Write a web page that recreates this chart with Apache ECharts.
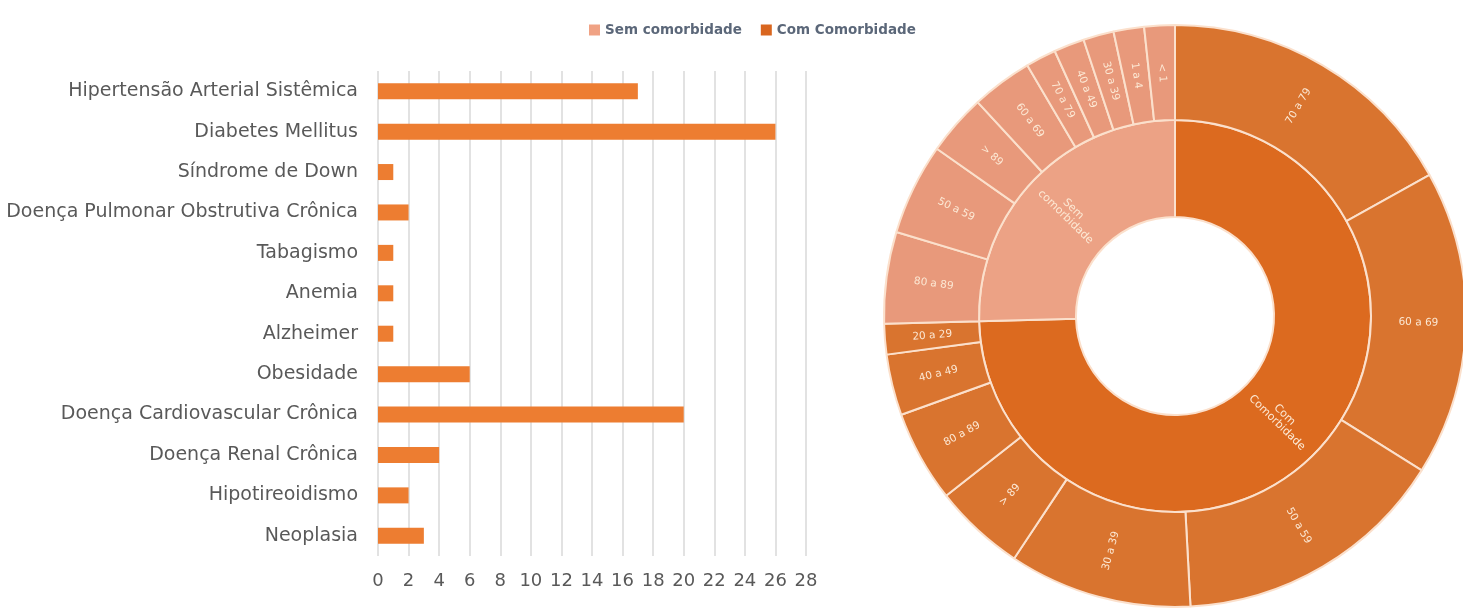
<!DOCTYPE html>
<html>
<head>
<meta charset="utf-8">
<script src="https://cdn.jsdelivr.net/npm/echarts@6/dist/echarts.min.js"></script>
<style>
html,body{margin:0;padding:0;background:#fff;}
#chart{width:1463px;height:608px;}
</style>
</head>
<body>
<div id="chart"></div>
<script>
// Bar chart data (comorbidities)
const comorbidities = ['Hipertensão Arterial Sistêmica','Diabetes Mellitus','Síndrome de Down','Doença Pulmonar Obstrutiva Crônica','Tabagismo','Anemia','Alzheimer','Obesidade','Doença Cardiovascular Crônica','Doença Renal Crônica','Hipotireoidismo','Neoplasia'];
const comorbidityCounts = [17,26,1,2,1,1,1,6,20,4,2,3];

// Sunburst data (age groups)
const groupNames = ['Com Comorbidade','Sem comorbidade'];
const groupLabels = ['Com\nComorbidade','Sem\ncomorbidade'];
const ageGroupsCom = ['70 a 79','60 a 69','50 a 59','30 a 39','> 89','80 a 89','40 a 49','20 a 29'];
const valuesCom = [10,10,9,6,3,3,2,1];
const ageGroupsSem = ['80 a 89','50 a 59','> 89','60 a 69','70 a 79','40 a 49','30 a 39','1 a 4','< 1'];
const valuesSem = [3,3,2,2,1,1,1,1,1];

const comInner = '#DC6A1F', comOuter = '#D9742F';
const semInner = '#ECA285', semOuter = '#E8997B';

function kids(names, vals, color){
  return names.map((n,i)=>({name:n, value:vals[i], itemStyle:{color:color}}));
}

const sunData = [
  {name: groupNames[0], label:{formatter: groupLabels[0]}, itemStyle:{color:comInner}, children: kids(ageGroupsCom, valuesCom, comOuter)},
  {name: groupNames[1], label:{formatter: groupLabels[1]}, itemStyle:{color:semInner}, children: kids(ageGroupsSem, valuesSem, semOuter)}
];

const chart = echarts.init(document.getElementById('chart'));
chart.setOption({
  animation:false,
  legend:{
    top:18, left:584,
    itemWidth:11, itemHeight:11, itemGap:19,
    icon:'rect',
    data: ['Sem comorbidade','Com Comorbidade'],
    textStyle:{fontFamily:'DejaVu Sans', fontSize:13.5, fontWeight:'bold', color:'#5B6779'}
  },
  grid:{left:378, right:657, top:71, bottom:52, containLabel:false},
  xAxis:{
    type:'value', min:0, max:28, interval:2,
    axisLine:{show:false}, axisTick:{show:false},
    axisLabel:{fontFamily:'DejaVu Sans', fontSize:18, color:'#595959', margin:16},
    splitLine:{show:true, lineStyle:{color:'#D9D9D9', width:1.5}}
  },
  yAxis:{
    type:'category', inverse:true, data: comorbidities,
    axisLine:{show:false}, axisTick:{show:false},
    axisLabel:{fontFamily:'DejaVu Sans', fontSize:19, color:'#595959', margin:20}
  },
  series:[
    {type:'bar', data: comorbidityCounts, barWidth:16, itemStyle:{color:'#ED7D31'}, silent:true},
    {type:'line', name:'Sem comorbidade', data:[], itemStyle:{color:'#F0A284'}},
    {type:'line', name:'Com Comorbidade', data:[], itemStyle:{color:'#D9661F'}},
    {
      type:'sunburst',
      center:[1175,316],
      radius:[99,291],
      sort:null,
      startAngle:90,
      data: sunData,
      itemStyle:{borderColor:'#FBE0CC', borderWidth:2},
      label:{rotate:'radial', color:'#FCE8D4', fontFamily:'DejaVu Sans', fontSize:10.5},
      levels:[
        {},
        {r0:99, r:196, label:{fontSize:11}},
        {r0:196, r:291, label:{fontSize:10.5}}
      ],
      emphasis:{disabled:true}
    }
  ]
});
</script>
</body>
</html>
